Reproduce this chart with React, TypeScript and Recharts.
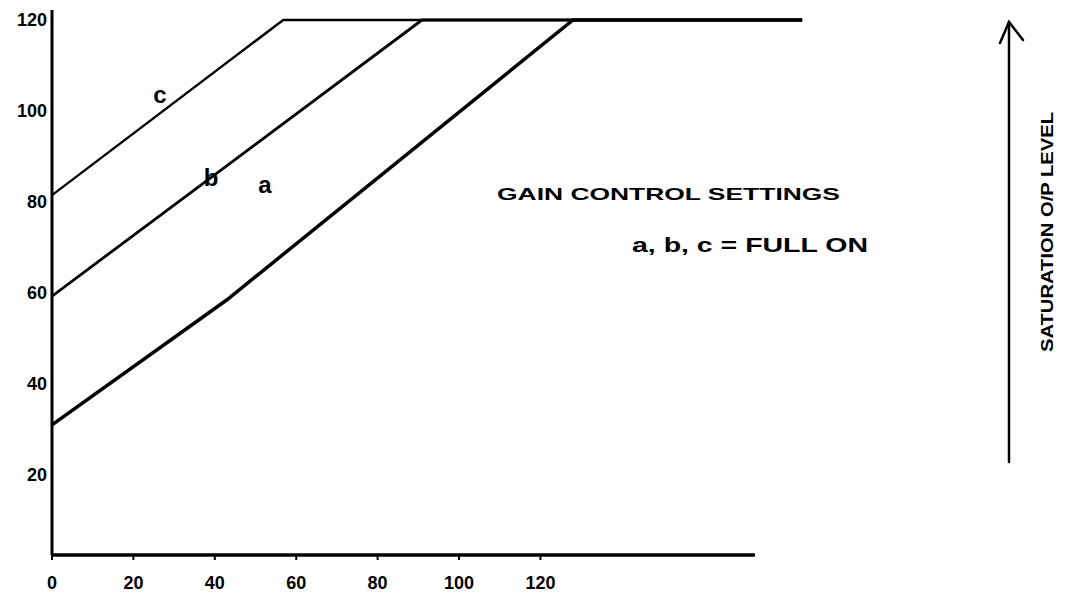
import React from "react";
import { LineChart, Line, XAxis, YAxis, ReferenceLine } from "recharts";

// Input level ticks (x) and output level ticks (y)
const xTicks = [0, 20, 40, 60, 80, 100, 120];
const yTicks = [20, 40, 60, 80, 100, 120];

// Gain control settings: curves a, b, c (input level -> output level)
const curveA = [
  { x: 0, y: 31 },
  { x: 43, y: 58.5 },
  { x: 128, y: 120 },
  { x: 184.3, y: 120 },
];
const curveB = [
  { x: 0, y: 59.3 },
  { x: 90.9, y: 120 },
  { x: 184.3, y: 120 },
];
const curveC = [
  { x: 0, y: 81.5 },
  { x: 56.8, y: 120 },
  { x: 184.3, y: 120 },
];

const xDomain: [number, number] = [0, 185];
const yDomain: [number, number] = [2.4, 122.2];
const xAxisEnd = 172.7;

const W = 1065;
const H = 588;
const FONT = "'Liberation Sans', 'DejaVu Sans', sans-serif";

export default function App() {
  const tickStyle = { fill: "#000", fontSize: 18, fontFamily: FONT, fontWeight: 700 };
  return (
    <div style={{ position: "relative", width: W, height: H, background: "#fff" }}>
      <LineChart
        width={W}
        height={H}
        margin={{ top: 2, right: 268, bottom: 11, left: 4 }}
      >
        <XAxis
          type="number"
          dataKey="x"
          domain={xDomain}
          ticks={xTicks}
          allowDataOverflow
          axisLine={false}
          tickLine={{ stroke: "#000", strokeWidth: 2 }}
          tickSize={5}
          tickMargin={16}
          height={30}
          tick={tickStyle}
        />
        <YAxis
          type="number"
          domain={yDomain}
          ticks={yTicks}
          allowDataOverflow
          width={40}
          axisLine={{ stroke: "#000", strokeWidth: 3 }}
          tickLine={false}
          tickSize={2}
          tickMargin={3}
          tick={tickStyle}
        />
        <ReferenceLine
          segment={[
            { x: 0, y: yDomain[0] },
            { x: xAxisEnd, y: yDomain[0] },
          ]}
          stroke="#000"
          strokeWidth={3.5}
          ifOverflow="visible"
        />
        <Line
          data={curveA}
          dataKey="y"
          stroke="#000"
          strokeWidth={3.5}
          dot={false}
          isAnimationActive={false}
        />
        <Line
          data={curveB}
          dataKey="y"
          stroke="#000"
          strokeWidth={2.8}
          dot={false}
          isAnimationActive={false}
        />
        <Line
          data={curveC}
          dataKey="y"
          stroke="#000"
          strokeWidth={2.4}
          dot={false}
          isAnimationActive={false}
        />
      </LineChart>
      <svg
        width={W}
        height={H}
        style={{ position: "absolute", left: 0, top: 0, pointerEvents: "none" }}
      >
        <g fontFamily={FONT} fill="#000" fontWeight={700}>
          <text x={152} y={95} fontSize={24} textAnchor="middle">c</text>
          <text x={203} y={178} fontSize={24} textAnchor="middle">b</text>
          <text x={257} y={185} fontSize={24} textAnchor="middle">a</text>
          <text x={489} y={192} fontSize={17} textLength={343} lengthAdjust="spacingAndGlyphs">
            GAIN CONTROL SETTINGS
          </text>
          <text x={624} y={244} fontSize={21} textLength={236} lengthAdjust="spacingAndGlyphs">
            a, b, c = FULL ON
          </text>
          <text
            x={1039}
            y={224}
            fontSize={17}
            textAnchor="middle"
            dominantBaseline="central"
            textLength={240}
            lengthAdjust="spacingAndGlyphs"
            transform="rotate(-90 1039 224)"
          >
            SATURATION O/P LEVEL
          </text>
        </g>
        <g stroke="#000" strokeWidth={2.5} fill="none" strokeLinecap="round">
          <line x1={1001} y1={14} x2={1001} y2={454} />
          <polyline points="992,35 1001,14 1015,32" />
        </g>
      </svg>
    </div>
  );
}
